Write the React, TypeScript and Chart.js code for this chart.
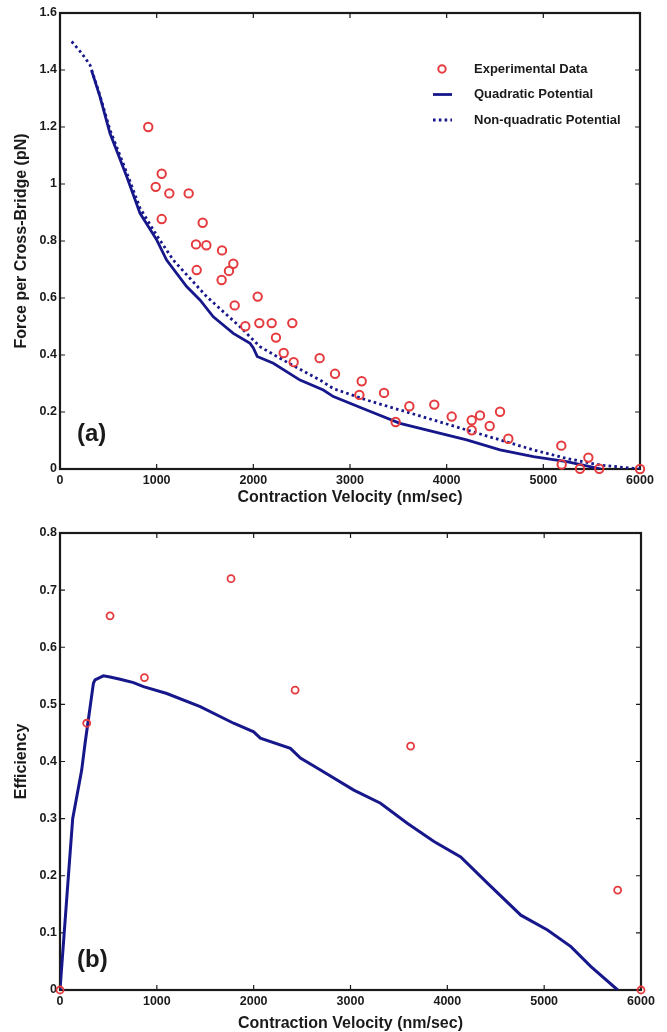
import React, { useEffect, useRef } from "react";
import { Chart, registerables } from "chart.js";

Chart.register(...registerables);

// ---------- Panel (a): force vs contraction velocity ----------
const expVelocity = [
  913, 990, 1052, 1131, 1331, 1052, 1476, 1407, 1514, 1676, 1414, 1672, 1748, 1793, 1807,
  2045, 1917, 2062, 2190, 2403, 2234, 2314, 2417, 2686, 2845, 3121, 3097, 3352, 3472, 3614,
  3872, 4052, 4259, 4345, 4259, 4445, 4552, 4638, 5186, 5190, 5379, 5466, 5579, 6000,
];
const expForce = [
  1.2, 0.99, 1.036, 0.967, 0.967, 0.877, 0.864, 0.788, 0.785, 0.767, 0.698, 0.663, 0.695, 0.72, 0.574,
  0.605, 0.501, 0.512, 0.512, 0.512, 0.461, 0.407, 0.375, 0.389, 0.334, 0.308, 0.26, 0.267, 0.165, 0.22,
  0.226, 0.184, 0.171, 0.188, 0.136, 0.151, 0.201, 0.106, 0.082, 0.016, 0.001, 0.04, 0.001, 0.0,
];

const quadVelocity = [
  328, 414, 517, 690, 828, 1000, 1103, 1310, 1448, 1586, 1793, 1966, 2000, 2040, 2207, 2483,
  2724, 2828, 3172, 3517, 3862, 4207, 4552, 4897, 5241, 5483, 5600,
];
const quadForce = [
  1.397, 1.306, 1.178, 1.026, 0.897, 0.804, 0.733, 0.64, 0.593, 0.534, 0.476, 0.441, 0.425, 0.395, 0.371, 0.312,
  0.277, 0.254, 0.207, 0.16, 0.131, 0.102, 0.067, 0.043, 0.026, 0.008, 0.0,
];

const nonQuadVelocity = [
  121, 224, 310, 414, 517, 690, 828, 1000, 1172, 1517, 1862, 2069, 2310, 2690, 2828, 3172,
  3517, 3862, 4207, 4552, 4897, 5241, 5586, 5931, 6000,
];
const nonQuadForce = [
  1.5, 1.459, 1.418, 1.31, 1.19, 1.04, 0.915, 0.82, 0.733, 0.605, 0.499, 0.429, 0.382, 0.312, 0.282, 0.242,
  0.207, 0.172, 0.137, 0.102, 0.067, 0.037, 0.014, 0.002, 0.0,
];

// ---------- Panel (b): efficiency vs contraction velocity ----------
const effExpVelocity = [0, 276, 517, 872, 1766, 2428, 3621, 5759, 6000];
const effExp = [0, 0.467, 0.655, 0.547, 0.72, 0.525, 0.427, 0.175, 0];

const effModelVelocity = [
  0, 86, 131, 224, 259, 345, 362, 448, 517, 621, 759, 862, 1103, 1448, 1793, 2000, 2069, 2379,
  2483, 2690, 3034, 3310, 3586, 3862, 4138, 4414, 4759, 5034, 5276, 5483, 5759,
];
const effModel = [
  0, 0.198, 0.3, 0.385, 0.432, 0.537, 0.543, 0.55, 0.548, 0.544, 0.538, 0.531, 0.519, 0.496, 0.467, 0.452, 0.441, 0.423,
  0.406, 0.385, 0.35, 0.327, 0.292, 0.26, 0.233, 0.187, 0.131, 0.105, 0.076, 0.041, 0,
];

const xTickStep = 1000;
const xLabel = "Contraction Velocity (nm/sec)";
const forceLabel = "Force per Cross-Bridge (pN)";
const effLabel = "Efficiency";
const legendLabels = ["Experimental Data", "Quadratic Potential", "Non-quadratic Potential"];

const FONT = '"Liberation Sans", Arial, Helvetica, sans-serif';
const NAVY = "#17178c";
const RED = "#e53a3e";
const INK = "#1a1a1a";

const pts = (xs: number[], ys: number[]) => xs.map((x, i) => ({ x, y: ys[i] }));

const decorPlugin = {
  id: "decor",
  beforeDatasetsDraw(chart: any) {
    const { ctx, chartArea: a } = chart;
    const xs = chart.scales.x;
    const ys = chart.scales.y;
    ctx.save();
    ctx.strokeStyle = INK;
    ctx.lineWidth = 1.2;
    ctx.beginPath();
    xs.ticks.forEach((t: any) => {
      const px = xs.getPixelForValue(t.value);
      ctx.moveTo(px, a.bottom);
      ctx.lineTo(px, a.bottom - 5);
      ctx.moveTo(px, a.top);
      ctx.lineTo(px, a.top + 5);
    });
    ys.ticks.forEach((t: any) => {
      const py = ys.getPixelForValue(t.value);
      ctx.moveTo(a.left, py);
      ctx.lineTo(a.left + 5, py);
      ctx.moveTo(a.right, py);
      ctx.lineTo(a.right - 5, py);
    });
    ctx.stroke();
    ctx.lineWidth = 2.2;
    ctx.strokeRect(a.left, a.top, a.right - a.left, a.bottom - a.top);
    ctx.restore();
  },
  afterDraw(chart: any, _args: any, opts: any) {
    const { ctx } = chart;
    ctx.save();
    if (opts.panel) {
      ctx.fillStyle = INK;
      ctx.font = `bold 24px ${FONT}`;
      ctx.textAlign = "left";
      ctx.textBaseline = "middle";
      ctx.fillText(opts.panel, opts.panelX, opts.panelY);
    }
    if (opts.legend) {
      const { x, y, gap, textX } = opts.legend;
      chart.data.datasets.forEach((ds: any, i: number) => {
        const cy = y + i * gap;
        ctx.save();
        ctx.strokeStyle = ds.borderColor;
        if (!ds.showLine) {
          ctx.lineWidth = ds.pointBorderWidth;
          ctx.beginPath();
          ctx.arc(x, cy, ds.pointRadius - 0.5, 0, Math.PI * 2);
          ctx.stroke();
        } else {
          ctx.lineWidth = ds.borderWidth;
          ctx.setLineDash(ds.borderDash || []);
          ctx.beginPath();
          ctx.moveTo(x - 9, cy);
          ctx.lineTo(x + 10, cy);
          ctx.stroke();
        }
        ctx.restore();
        ctx.fillStyle = INK;
        ctx.font = `bold 13px ${FONT}`;
        ctx.textAlign = "left";
        ctx.textBaseline = "middle";
        ctx.fillText(ds.label, textX, cy);
      });
    }
    ctx.restore();
  },
};

const fmt = (v: any) => String(Number(Number(v).toFixed(2)));

function makeScales(yMax: number, yStep: number, xHeight: number, xTitlePad: number) {
  const tickFont = { family: FONT, size: 12.5, weight: "bold" as const };
  const titleFont = { family: FONT, size: 16, weight: "bold" as const, lineHeight: 1.1 };
  return {
    x: {
      type: "linear" as const,
      min: 0,
      max: 6000,
      grid: { display: false, drawTicks: false },
      border: { display: false },
      ticks: { stepSize: xTickStep, autoSkip: false, maxRotation: 0, padding: 4, color: INK, font: tickFont, callback: fmt },
      title: { display: true, text: xLabel, color: INK, font: titleFont, padding: { top: 0, bottom: xTitlePad } },
      afterFit: (s: any) => {
        s.height = xHeight;
      },
    },
    y: {
      type: "linear" as const,
      min: 0,
      max: yMax,
      grid: { display: false, drawTicks: false },
      border: { display: false },
      ticks: { stepSize: yStep, autoSkip: false, padding: 3, color: INK, font: tickFont, callback: fmt },
      title: { display: true, color: INK, font: titleFont, padding: { top: 13, bottom: 0 } },
      afterFit: (s: any) => {
        s.width = 60;
      },
    },
  };
}

function topConfig(): any {
  const scales: any = makeScales(1.6, 0.2, 41, 3.2);
  scales.y.title.text = forceLabel;
  return {
    type: "scatter",
    data: {
      datasets: [
        {
          label: legendLabels[0],
          data: pts(expVelocity, expForce),
          showLine: false,
          pointRadius: 4.2,
          pointBorderWidth: 2,
          borderWidth: 2,
          borderColor: RED,
          pointBorderColor: RED,
          backgroundColor: "rgba(0,0,0,0)",
          pointBackgroundColor: "rgba(0,0,0,0)",
          clip: false,
        },
        {
          label: legendLabels[1],
          data: pts(quadVelocity, quadForce),
          showLine: true,
          pointRadius: 0,
          borderColor: NAVY,
          borderWidth: 2.8,
          tension: 0,
        },
        {
          label: legendLabels[2],
          data: pts(nonQuadVelocity, nonQuadForce),
          showLine: true,
          pointRadius: 0,
          borderColor: NAVY,
          borderWidth: 2.8,
          borderDash: [2.6, 3.2],
          tension: 0,
        },
      ],
    },
    options: {
      responsive: false,
      animation: false,
      events: [],
      layout: { padding: { left: 0, top: 13, right: 27, bottom: 0 } },
      scales,
      plugins: {
        legend: { display: false },
        tooltip: { enabled: false },
        decor: {
          panel: "(a)",
          panelX: 77,
          panelY: 434,
          legend: { x: 442, y: 69, gap: 25.5, textX: 474 },
        },
      },
    },
    plugins: [decorPlugin],
  };
}

function bottomConfig(): any {
  const scales: any = makeScales(0.8, 0.1, 42, 0);
  scales.y.title.text = effLabel;
  return {
    type: "scatter",
    data: {
      datasets: [
        {
          label: "Experimental Data",
          data: pts(effExpVelocity, effExp),
          showLine: false,
          pointRadius: 3.5,
          pointBorderWidth: 1.8,
          borderWidth: 1.8,
          borderColor: RED,
          pointBorderColor: RED,
          backgroundColor: "rgba(0,0,0,0)",
          pointBackgroundColor: "rgba(0,0,0,0)",
          clip: false,
        },
        {
          label: "Model",
          data: pts(effModelVelocity, effModel),
          showLine: true,
          pointRadius: 0,
          borderColor: NAVY,
          borderWidth: 3,
          tension: 0,
        },
      ],
    },
    options: {
      responsive: false,
      animation: false,
      events: [],
      layout: { padding: { left: 0, top: 23, right: 26, bottom: 0 } },
      scales,
      plugins: {
        legend: { display: false },
        tooltip: { enabled: false },
        decor: { panel: "(b)", panelX: 77, panelY: 450 },
      },
    },
    plugins: [decorPlugin],
  };
}

function ChartCanvas({ make, top, height }: { make: () => any; top: number; height: number }) {
  const ref = useRef<HTMLCanvasElement | null>(null);
  useEffect(() => {
    if (!ref.current) return;
    const chart = new Chart(ref.current, make());
    return () => chart.destroy();
  }, []);
  return (
    <canvas
      ref={ref}
      width={667}
      height={height}
      style={{ position: "absolute", left: 0, top, width: 667, height, display: "block" }}
    />
  );
}

export default function App() {
  return (
    <div style={{ position: "absolute", left: 0, top: 0, width: 667, height: 1032, background: "#fff", overflow: "hidden" }}>
      <ChartCanvas make={topConfig} top={0} height={510} />
      <ChartCanvas make={bottomConfig} top={510} height={522} />
    </div>
  );
}
